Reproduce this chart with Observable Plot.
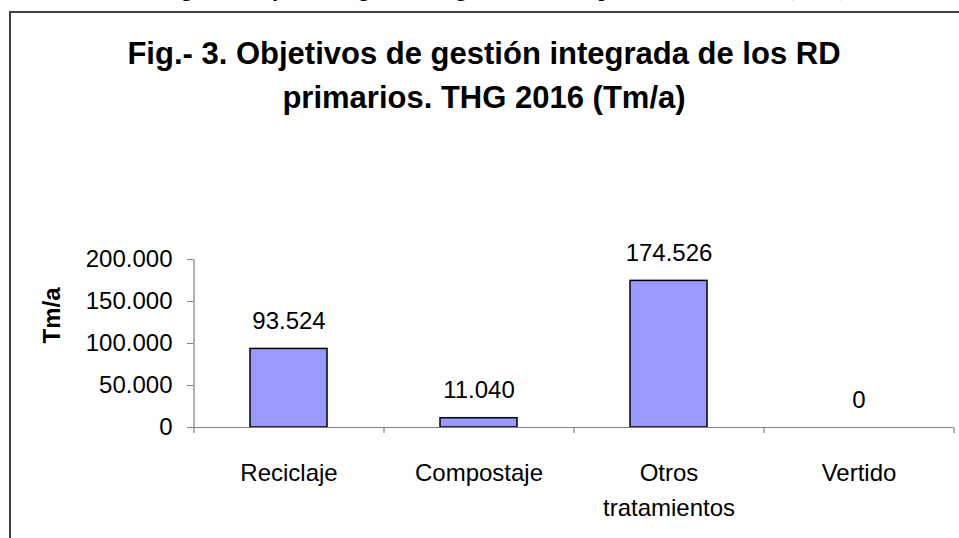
<!DOCTYPE html>
<html>
<head>
<meta charset="utf-8">
<script src="https://cdn.jsdelivr.net/npm/d3@7"></script>
<script src="https://cdn.jsdelivr.net/npm/@observablehq/plot@0.6"></script>
<style>
  html, body { margin: 0; padding: 0; background: #fff; }
  #wrap { position: relative; width: 959px; height: 538px; overflow: hidden; font-family: "Liberation Sans", Arial, sans-serif; }
  #doc { position: absolute; left: 0; top: -21px; width: 1010px; text-align: center; font: bold 20px/20px "Liberation Serif", "Times New Roman", serif; white-space: nowrap; color: #000; }
  #box { position: absolute; left: 9px; top: 11px; width: 1000px; height: 1000px; border-left: 2px solid #404040; border-top: 2px solid #404040; box-sizing: border-box; }
  .title { position: absolute; left: 0; width: 968px; text-align: center; font: bold 31px/31px "Liberation Sans", Arial, sans-serif; white-space: nowrap; color: #000; }
  #chart { position: absolute; left: 0; top: 0; }
</style>
</head>
<body>
<div id="wrap">
  <div id="doc"></div>
  <div id="box"></div>
  <div class="title" id="t1" style="top:38px"></div>
  <div class="title" id="t2" style="top:82px"></div>
  <div id="chart"></div>
</div>
<script>
const docCaption = "Figura 3. Objetivos de gestión integrada de los RD primarios. THG 2016 (Tm/a)";
const titleLines = ["Fig.- 3. Objetivos de gestión integrada de los RD", "primarios. THG 2016 (Tm/a)"];
const categories = ["Reciclaje", "Compostaje", "Otros tratamientos", "Vertido"];
const values = [93524, 11040, 174526, 0];
const yTicks = [0, 50000, 100000, 150000, 200000];
const yLabel = "Tm/a";

document.getElementById("doc").textContent = docCaption;
document.getElementById("t1").textContent = titleLines[0];
document.getElementById("t2").textContent = titleLines[1];

const fmt = d => d3.format(",")(d).replace(/,/g, ".");
const data = categories.map((c, i) => ({category: c, value: values[i]}));

const W = 959, H = 538, mL = 193, mR = 6, mT = 259, mB = 111;
const step = (W - mL - mR) / categories.length;
const axisColor = "#808080";

const chart = Plot.plot({
  width: W,
  height: H,
  marginLeft: mL,
  marginRight: mR,
  marginTop: mT,
  marginBottom: mB,
  style: {fontFamily: '"Liberation Sans", Arial, sans-serif', fontSize: "24px", color: "#000", background: "transparent", overflow: "visible"},
  x: {type: "band", domain: categories, paddingInner: 0.595, paddingOuter: 0.2975, label: null},
  y: {domain: [0, 200000], label: null},
  marks: [
    Plot.barY(data, {x: "category", y: "value", fill: "#9999FF", stroke: "#000", strokeWidth: 1.5}),
    Plot.ruleY([0], {stroke: axisColor, strokeWidth: 1.2}),
    Plot.ruleX([categories[0]], {dx: -step / 2, y1: 0, y2: 200000, stroke: axisColor, strokeWidth: 1.2}),
    Plot.ruleX(categories, {x: d => d, dx: -step / 2, y1: 0, y2: 0, insetBottom: -6, stroke: axisColor, strokeWidth: 1.2}),
    Plot.ruleX([categories[categories.length - 1]], {dx: step / 2, y1: 0, y2: 0, insetBottom: -6, stroke: axisColor, strokeWidth: 1.2}),
    Plot.axisY({ticks: yTicks, tickSize: 6, tickPadding: 15, tickFormat: fmt, fontSize: 24, stroke: axisColor, label: null}),
    Plot.axisX({tickSize: 0, tickPadding: 29, tickFormat: d => d.replace(" ", "\n"), fontSize: 24, lineHeight: 1.46, label: null}),
    Plot.text(data, {x: "category", y: "value", text: d => fmt(d.value), lineAnchor: "bottom", dy: -20, fontSize: 24, fill: "#000"}),
    Plot.text([yLabel], {frameAnchor: "left", dx: -141, rotate: -90, fontWeight: "bold", fontSize: 24, fill: "#000"})
  ]
});
document.getElementById("chart").appendChild(chart);
</script>
</body>
</html>
